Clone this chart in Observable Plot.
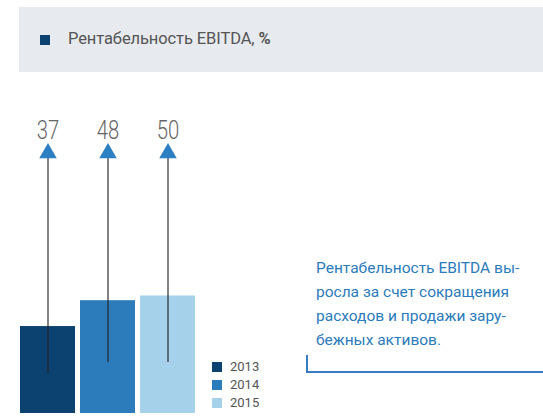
<!DOCTYPE html>
<html><head><meta charset="utf-8">
<script src="https://cdn.jsdelivr.net/npm/d3@7"></script>
<script src="https://cdn.jsdelivr.net/npm/@observablehq/plot@0.6"></script>
<style>
body{margin:0;background:#fff;width:543px;height:419px;overflow:hidden;position:relative;font-family:Roboto,"Noto Sans",sans-serif;}
#hdr{position:absolute;left:19px;top:7px;width:524px;height:65px;background:#e7eaee;}
#hdr .sq{position:absolute;left:21px;top:28px;width:10px;height:10px;background:#0c426f;}
#hdr .t{position:absolute;left:49px;top:22px;font-size:16.5px;color:#555;letter-spacing:-0.1px;}
#chart{position:absolute;left:0;top:0;}
#legend{position:absolute;left:212px;top:360px;font-size:13px;color:#555;}
#legend div{height:18px;line-height:14px;position:relative;padding-left:18px;}
#legend span{position:absolute;left:0;top:2px;width:10px;height:10px;}
#note{position:absolute;left:316px;top:256px;font-size:15.5px;line-height:24px;color:#2c7bba;}
#brk{position:absolute;left:306px;top:355px;width:237px;height:16px;border-left:2px solid #3a7cc0;border-bottom:2px solid #3a7cc0;}
#chart text.num{transform-box:fill-box;transform-origin:center;}
</style></head>
<body>
<div id="hdr"><div class="sq"></div><div class="t">Рентабельность EBITDA, <b>%</b></div></div>
<div id="chart"></div>
<div id="legend"></div>
<div id="note">Рентабельность EBITDA вы-<br>росла за счет сокращения<br>расходов и продажи зару-<br>бежных активов.</div>
<div id="brk"></div>
<script>
const years = ["2013", "2014", "2015"];
const values = [37, 48, 50];
const colors = ["#0c426f", "#2c7bba", "#a6d1ea"];
const arrowBase = [17, 21.7, 21.7];
const arrowTip = 113;
const labelPos = 117;

const data = years.map((y, i) => ({year: y, value: values[i], color: colors[i], base: arrowBase[i]}));

const plot = Plot.plot({
  width: 543, height: 419,
  marginTop: 0, marginBottom: 0, marginLeft: 0, marginRight: 0,
  x: {type: "band", domain: years, range: [20, 195], paddingInner: 5/60, paddingOuter: 0, axis: null},
  y: {domain: [0, 50], range: [413, 413 - 117.5], axis: null},
  marks: [
    Plot.barY(data, {x: "year", y: "value", fill: "color"}),
    Plot.ruleX(data, {x: "year", y1: "base", y2: arrowTip - 3, stroke: "#222", strokeWidth: 1.5, strokeOpacity: 0.75}),
    Plot.dot(data, {x: "year", y: arrowTip - 2.2, symbol: "triangle", r: 6.5, fill: "#2c7fc0", stroke: null}),
    Plot.text(data, {x: "year", y: labelPos, text: d => String(d.value), lineAnchor: "bottom", fontSize: 26, fontWeight: 300, fill: "#666", fontFamily: "Roboto, sans-serif"})
  ]
});
document.getElementById("chart").appendChild(plot);
// condense the value labels horizontally around their own anchor
d3.select(plot).selectAll("text").each(function() {
  const t = d3.select(this);
  const tr = t.attr("transform") || "";
  const x = +(t.attr("x") || 0);
  if (tr) t.attr("transform", tr + " scale(0.78,1)");
  t.attr("x", x / 0.78);
});

const leg = document.getElementById("legend");
years.forEach((y, i) => {
  const d = document.createElement("div");
  d.innerHTML = `<span style="background:${colors[i]}"></span>${y}`;
  leg.appendChild(d);
});
</script>
</body></html>
